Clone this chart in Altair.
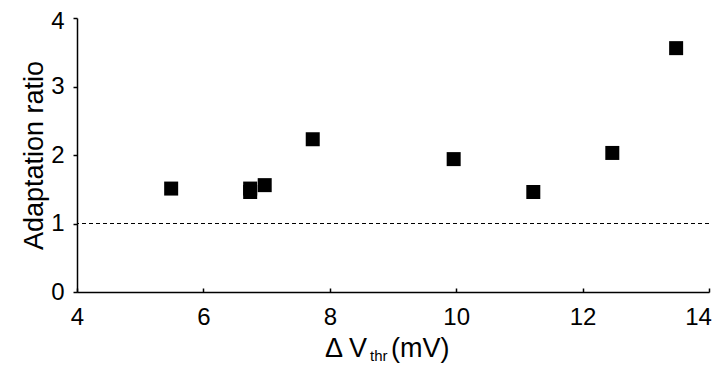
import altair as alt
import pandas as pd

# Data
dvthr = [5.49, 6.74, 6.74, 6.97, 7.73, 9.96, 11.22, 12.47, 13.48]
adapt_ratio = [1.51, 1.51, 1.46, 1.56, 2.23, 1.94, 1.46, 2.03, 3.56]
ref_level = [1.0]
x_ticks = [4, 6, 8, 10, 12, 14]
y_ticks = [0, 1, 2, 3, 4]

df = pd.DataFrame({"dv": dvthr, "ratio": adapt_ratio})
ref_df = pd.DataFrame({"y": ref_level})

FONT = "Liberation Sans"
W, H = 632, 274

xscale = alt.Scale(domain=[4, 14], nice=False, zero=False)
yscale = alt.Scale(domain=[0, 4], nice=False)

points = alt.Chart(df).mark_square(size=196, color="black", opacity=1, filled=True).encode(
    x=alt.X("dv:Q", scale=xscale,
            axis=alt.Axis(values=x_ticks, format="d", ticks=False, grid=False, domainColor="black",
                          domainWidth=1.5, labelFont=FONT, labelFontSize=24, labelColor="black",
                          labelPadding=13, title=None, labelFlush=False,
                          labelOffset={"condition": {"test": "datum.value == 14", "value": -11}, "value": 0})),
    y=alt.Y("ratio:Q", scale=yscale,
            axis=alt.Axis(values=y_ticks, format="d", tickSize=4, tickColor="black", tickWidth=1.5,
                          grid=False, domainColor="black", domainWidth=1.5,
                          labelFont=FONT, labelFontSize=24, labelColor="black",
                          labelPadding=9, title="Adaptation ratio", titleFont=FONT,
                          titleFontSize=27, titleFontWeight="normal", titleColor="black",
                          titlePadding=2, labelFlush=False,
                          labelOffset={"condition": {"test": "datum.value == 4", "value": 3}, "value": 0})),
)

# inward ticks for the x axis
inward = alt.Chart(df).mark_point(opacity=0).encode(
    x=alt.X("dv:Q", scale=xscale,
            axis=alt.Axis(orient="top", offset=-H, values=x_ticks, labels=False, domain=False,
                          tickSize=4, tickColor="black", tickWidth=1.5, grid=False, title=None)),
)

ref = alt.Chart(ref_df).mark_rule(color="black", strokeDash=[4, 3], strokeWidth=1).encode(
    y=alt.Y("y:Q", scale=yscale)
)

t1 = alt.Chart(pd.DataFrame({"t": ["Δ V"]})).mark_text(
    font=FONT, fontSize=27, align="right", baseline="alphabetic", color="black"
).encode(text="t:N", x=alt.value(290), y=alt.value(339))
t2 = alt.Chart(pd.DataFrame({"t": ["thr"]})).mark_text(
    font=FONT, fontSize=15, align="left", baseline="alphabetic", color="black"
).encode(text="t:N", x=alt.value(293), y=alt.value(343))
t3 = alt.Chart(pd.DataFrame({"t": ["(mV)"]})).mark_text(
    font=FONT, fontSize=27, align="left", baseline="alphabetic", color="black"
).encode(text="t:N", x=alt.value(314), y=alt.value(339))

chart = alt.layer(ref, points, inward, t1, t2, t3).resolve_axis(x="independent").properties(
    width=W, height=H,
    padding={"left": 69, "top": 10, "right": 3, "bottom": 72},
    autosize="none",
).configure_view(stroke=None)

chart.save("out.html", embed_options={"renderer": "svg", "actions": False})
